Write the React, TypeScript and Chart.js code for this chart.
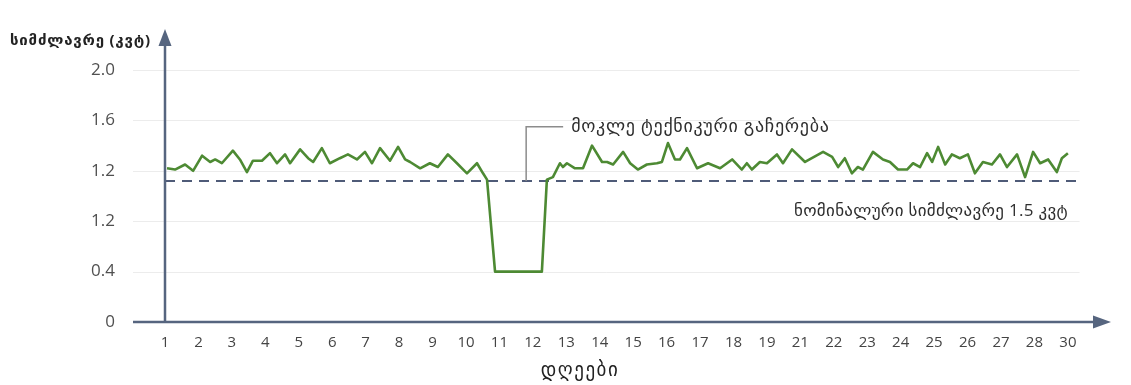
import { useEffect, useRef } from "react";
import { Chart, registerables } from "chart.js";

Chart.register(...registerables);

// Day labels under the x axis (one per tick, evenly spaced)
const X_LABELS = [
  "1", "2", "3", "4", "5", "6", "7", "8", "9", "10", "11", "12", "13", "14",
  "15", "16", "17", "18", "19", "21", "22", "23", "24", "25", "26", "27", "28", "30",
];

// Labels printed at the y ticks 0, 0.4, 0.8, 1.2, 1.6, 2.0
const Y_TICK_LABELS = ["0", "0.4", "1.2", "1.2", "1.6", "2.0"];

// Sample times, in tick units along the day axis
const SAMPLE_DAY = [
  0.06, 0.3, 0.6, 0.84, 1.11, 1.35, 1.5, 1.7, 2.03, 2.24, 2.45, 2.63, 2.9, 3.14,
  3.35, 3.59, 3.74, 4.04, 4.28, 4.43, 4.69, 4.93, 5.23, 5.47, 5.74, 5.98, 6.19,
  6.43, 6.73, 6.97, 7.18, 7.33, 7.63, 7.92, 8.16, 8.46, 8.73, 9.03, 9.33, 9.51,
  9.63, 9.87, 11.27, 11.42, 11.6, 11.81, 11.9, 12.02, 12.26, 12.5, 12.77, 13.07,
  13.22, 13.4, 13.7, 13.91, 14.14, 14.41, 14.71, 14.86, 15.04, 15.25, 15.4,
  15.61, 15.91, 16.24, 16.6, 16.96, 17.25, 17.4, 17.55, 17.79, 18.0, 18.3,
  18.48, 18.75, 19.14, 19.68, 19.95, 20.13, 20.33, 20.54, 20.72, 20.87, 21.17,
  21.47, 21.68, 21.92, 22.19, 22.37, 22.58, 22.79, 22.94, 23.12, 23.33, 23.53,
  23.77, 24.01, 24.22, 24.46, 24.73, 24.97, 25.18, 25.48, 25.72, 25.96, 26.17,
  26.41, 26.67, 26.82, 27.0,
];

// Measured output power, kW
const POWER_KW = [
  1.22, 1.21, 1.25, 1.2, 1.32, 1.27, 1.29, 1.26, 1.36, 1.29, 1.19, 1.28, 1.28,
  1.34, 1.26, 1.33, 1.26, 1.37, 1.3, 1.27, 1.38, 1.26, 1.3, 1.33, 1.29, 1.35,
  1.26, 1.38, 1.28, 1.39, 1.29, 1.27, 1.22, 1.26, 1.23, 1.33, 1.26, 1.18, 1.26,
  1.18, 1.13, 0.4, 0.4, 1.13, 1.15, 1.26, 1.23, 1.26, 1.22, 1.22, 1.4, 1.27,
  1.27, 1.25, 1.35, 1.26, 1.21, 1.25, 1.26, 1.27, 1.42, 1.29, 1.29, 1.38, 1.22,
  1.26, 1.22, 1.29, 1.21, 1.26, 1.21, 1.27, 1.26, 1.33, 1.26, 1.37, 1.27, 1.35,
  1.31, 1.23, 1.3, 1.18, 1.23, 1.21, 1.35, 1.29, 1.27, 1.21, 1.21, 1.26, 1.23,
  1.34, 1.27, 1.39, 1.25, 1.33, 1.3, 1.33, 1.18, 1.27, 1.25, 1.33, 1.23, 1.33,
  1.15, 1.35, 1.26, 1.29, 1.19, 1.3, 1.34,
];

// Nominal power reference line
const NOMINAL_KW = 1.12;
const NOMINAL_SPAN = [0, 27.3];

// Outage annotation anchor (day axis position, top of the leader in kW)
const OUTAGE_NOTE_DAY = 10.8;
const OUTAGE_NOTE_KW = 1.55;

const Y_TITLE = "სიმძლავრე (კვტ)";
const X_TITLE = "დღეები";
const OUTAGE_NOTE = "მოკლე ტექნიკური გაჩერება";
const NOMINAL_NOTE = "ნომინალური სიმძლავრე 1.5 კვტ";

const FONT = "'Open Sans', 'DejaVu Sans', sans-serif";
const AXIS_COLOR = "#56657f";
const LINE_GREEN = "#4d8a33";
const DASH_COLOR = "#4f5b78";
const TEXT_COLOR = "#2e2e2e";

function drawText(
  ctx: CanvasRenderingContext2D,
  text: string,
  x: number,
  y: number,
  font: string,
  align: CanvasTextAlign,
  spacing: number,
) {
  ctx.font = font;
  ctx.textAlign = align;
  ctx.textBaseline = "middle";
  (ctx as any).letterSpacing = `${spacing}px`;
  ctx.fillText(text, x, y);
  (ctx as any).letterSpacing = "0px";
}

const decorations = {
  id: "decorations",
  beforeDatasetsDraw(chart: any) {
    const { ctx, chartArea, scales } = chart;
    const x = scales.x;
    const y = scales.y;
    ctx.save();
    ctx.strokeStyle = "#ececec";
    ctx.lineWidth = 1;
    const gridEnd = x.getPixelForValue(27.35);
    y.ticks.forEach((t: any) => {
      if (t.value <= 0) return;
      const py = Math.round(y.getPixelForValue(t.value)) + 0.5;
      ctx.beginPath();
      ctx.moveTo(chartArea.left - 32, py);
      ctx.lineTo(gridEnd, py);
      ctx.stroke();
    });
    ctx.restore();
  },
  afterDatasetsDraw(chart: any) {
    const { ctx, chartArea, scales } = chart;
    const x = scales.x;
    const y = scales.y;
    ctx.save();

    // outage annotation leader and text
    const ax = x.getPixelForValue(OUTAGE_NOTE_DAY);
    const ay0 = y.getPixelForValue(NOMINAL_KW);
    const ay1 = y.getPixelForValue(OUTAGE_NOTE_KW);
    ctx.strokeStyle = "#8c8c8c";
    ctx.lineWidth = 1.5;
    ctx.beginPath();
    ctx.moveTo(ax, ay0);
    ctx.lineTo(ax, ay1);
    ctx.lineTo(ax + 37, ay1);
    ctx.stroke();
    ctx.fillStyle = TEXT_COLOR;
    drawText(ctx, OUTAGE_NOTE, ax + 45, ay1, `18px ${FONT}`, "left", 0.7);

    // nominal power note
    drawText(ctx, NOMINAL_NOTE, x.getPixelForValue(27), ay0 + 30, `17px ${FONT}`, "right", 0.3);

    // axes with arrow heads
    const x0 = chartArea.left;
    const yBase = y.getPixelForValue(0);
    ctx.strokeStyle = AXIS_COLOR;
    ctx.fillStyle = AXIS_COLOR;
    ctx.lineWidth = 2.5;
    ctx.beginPath();
    ctx.moveTo(x0, yBase);
    ctx.lineTo(x0, 42);
    ctx.stroke();
    ctx.beginPath();
    ctx.moveTo(x0, 29);
    ctx.lineTo(x0 - 6.5, 46);
    ctx.lineTo(x0 + 6.5, 46);
    ctx.closePath();
    ctx.fill();

    ctx.beginPath();
    ctx.moveTo(chartArea.left - 32, yBase);
    ctx.lineTo(1096, yBase);
    ctx.stroke();
    ctx.beginPath();
    ctx.moveTo(1111, yBase);
    ctx.lineTo(1093, yBase - 6.5);
    ctx.lineTo(1093, yBase + 6.5);
    ctx.closePath();
    ctx.fill();

    // axis titles
    ctx.fillStyle = "#222222";
    drawText(ctx, Y_TITLE, 10, 41, `bold 15px ${FONT}`, "left", 0.8);
    drawText(ctx, X_TITLE, 580, 371, `19px ${FONT}`, "center", 1.5);

    ctx.restore();
  },
};

export default function App() {
  const canvasRef = useRef<HTMLCanvasElement | null>(null);

  useEffect(() => {
    const canvas = canvasRef.current;
    if (!canvas) return;
    const chart = new Chart(canvas, {
      type: "line",
      data: {
        datasets: [
          {
            label: "power",
            data: SAMPLE_DAY.map((d, i) => ({ x: d, y: POWER_KW[i] })),
            borderColor: LINE_GREEN,
            borderWidth: 2.6,
            pointRadius: 0,
            tension: 0,
            borderJoinStyle: "round",
            fill: false,
          },
          {
            label: "nominal",
            data: NOMINAL_SPAN.map((d) => ({ x: d, y: NOMINAL_KW })),
            borderColor: DASH_COLOR,
            borderWidth: 2,
            borderDash: [10, 7],
            pointRadius: 0,
            fill: false,
          },
        ],
      },
      options: {
        responsive: false,
        animation: false,
        devicePixelRatio: 1,
        layout: { padding: { top: 70, right: 26, bottom: 0, left: 0 } },
        plugins: {
          legend: { display: false },
          tooltip: { enabled: false },
        },
        scales: {
          x: {
            type: "linear",
            min: 0,
            max: 28.11,
            grid: { display: false },
            border: { display: false },
            afterBuildTicks: (scale: any) => {
              scale.ticks = X_LABELS.map((_, i) => ({ value: i }));
            },
            afterFit: (scale: any) => {
              scale.height = 63;
            },
            ticks: {
              autoSkip: false,
              maxRotation: 0,
              padding: 4,
              color: "#444444",
              font: { family: FONT, size: 15 },
              callback: (_v: any, i: number) => X_LABELS[i],
            },
          },
          y: {
            type: "linear",
            min: 0,
            max: 2.0,
            grid: { display: false },
            border: { display: false },
            afterBuildTicks: (scale: any) => {
              scale.ticks = Y_TICK_LABELS.map((_, i) => ({ value: i * 0.4 }));
            },
            afterFit: (scale: any) => {
              scale.width = 165;
            },
            ticks: {
              padding: 42,
              color: "#505050",
              font: { family: FONT, size: 17 },
              callback: (_v: any, i: number) => Y_TICK_LABELS[i],
            },
          },
        },
      },
      plugins: [decorations],
    });
    return () => chart.destroy();
  }, []);

  return (
    <div
      style={{
        position: "fixed",
        left: 0,
        top: 0,
        width: 1131,
        height: 385,
        background: "#ffffff",
      }}
    >
      <canvas ref={canvasRef} width={1131} height={385} />
    </div>
  );
}
